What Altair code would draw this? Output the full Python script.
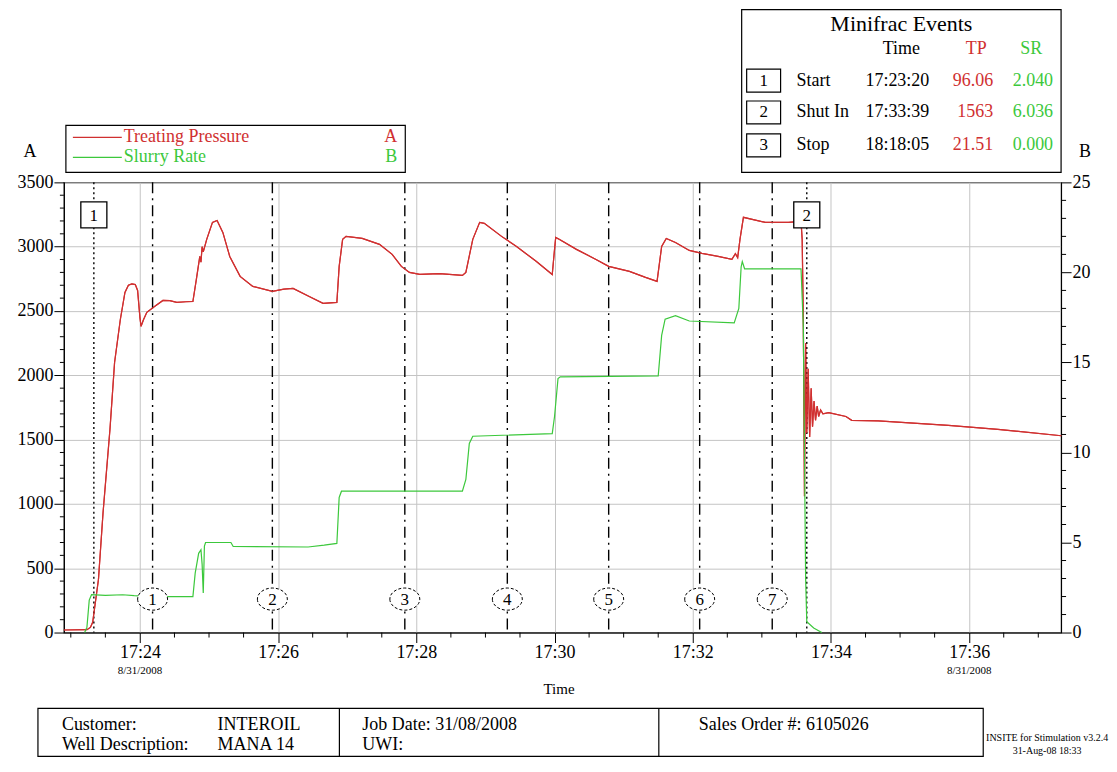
import altair as alt
import pandas as pd

# ---------------- data ----------------
TP_TIME = ["17:22:54", "17:23:14", "17:23:17", "17:23:19", "17:23:24", "17:23:28", "17:23:34",
           "17:23:38", "17:23:43", "17:23:47", "17:23:50", "17:23:53", "17:23:56", "17:23:58",
           "17:24:00", "17:24:01", "17:24:03", "17:24:06", "17:24:13", "17:24:20", "17:24:26",
           "17:24:32", "17:24:40", "17:24:46", "17:24:49", "17:24:52", "17:24:53", "17:24:54",
           "17:24:55", "17:24:58", "17:25:03", "17:25:07", "17:25:12", "17:25:18", "17:25:27",
           "17:25:38", "17:25:55", "17:26:05", "17:26:13", "17:26:27", "17:26:39", "17:26:51",
           "17:26:53", "17:26:56", "17:26:59", "17:27:13", "17:27:28", "17:27:39", "17:27:47",
           "17:27:54", "17:28:03", "17:28:20", "17:28:40", "17:28:43", "17:28:49", "17:28:55",
           "17:28:59", "17:29:14", "17:29:27", "17:29:44", "17:29:58", "17:30:00", "17:30:01",
           "17:30:04", "17:30:19", "17:30:36", "17:30:47", "17:31:05", "17:31:19", "17:31:29",
           "17:31:33", "17:31:37", "17:31:45", "17:31:57", "17:32:08", "17:32:22", "17:32:34",
           "17:32:37", "17:32:39", "17:32:41", "17:32:44", "17:33:03", "17:33:23", "17:33:34",
           "17:33:35", "17:33:36", "17:33:37", "17:33:38", "17:33:39", "17:33:40.2", "17:33:41.5",
           "17:33:42.8", "17:33:44", "17:33:45.3", "17:33:46.6", "17:33:48", "17:33:49.3",
           "17:33:51", "17:33:53", "17:33:58", "17:34:13", "17:34:18", "17:34:41", "17:35:42",
           "17:36:25", "17:37:20"]
TP_VALUE = [20, 22, 40, 80, 412, 933, 1580,
            2100, 2434, 2644, 2700, 2710, 2705, 2660,
            2450, 2380, 2430, 2490, 2536, 2582, 2580,
            2567, 2572, 2574, 2746, 2924, 2880, 3000,
            2960, 3057, 3189, 3204, 3111, 2924, 2769,
            2691, 2652, 2670, 2676, 2613, 2559, 2567,
            2847, 3057, 3080, 3064, 3018, 2940, 2847,
            2800, 2784, 2790, 2777, 2800, 3057, 3189,
            3181, 3080, 3002, 2886, 2784, 2979, 3072,
            3057, 2979, 2901, 2847, 2808, 2761, 2730,
            3002, 3064, 3033, 2971, 2948, 2924, 2901,
            2945, 2915, 3057, 3228, 3189, 3189, 3197,
            3057, 2430, 1060, 2250, 1550, 2050, 1520,
            1900, 1600, 1800, 1650, 1760, 1680,
            1730, 1700, 1710, 1680, 1650, 1645, 1610,
            1580, 1530]

SR_TIME = ["17:23:12", "17:23:14", "17:23:16", "17:23:18", "17:23:30", "17:23:45", "17:23:55",
           "17:24:10", "17:24:30", "17:24:46", "17:24:48", "17:24:51", "17:24:53", "17:24:54",
           "17:24:55", "17:24:56", "17:24:57", "17:25:19", "17:25:21", "17:26:26", "17:26:40",
           "17:26:51", "17:26:53", "17:26:55", "17:28:40", "17:28:43", "17:28:46", "17:28:49",
           "17:29:58", "17:30:00", "17:30:03", "17:30:05", "17:31:30", "17:31:33", "17:31:36",
           "17:31:45", "17:31:57", "17:32:36", "17:32:40", "17:32:42", "17:32:43", "17:32:45",
           "17:33:34", "17:33:36", "17:33:38", "17:33:39", "17:33:45", "17:33:52"]
SR_VALUE = [0, 0.3, 1.8, 2.1, 2.06, 2.1, 2.05,
            2.0, 2.0, 2.0, 3.3, 4.4, 4.6, 3.8,
            2.2, 4.8, 5.0, 5.0, 4.78, 4.75, 4.85,
            4.95, 7.5, 7.85, 7.85, 8.5, 10.5, 10.9,
            11.05, 12.0, 14.1, 14.2, 14.25, 16.5, 17.4,
            17.6, 17.3, 17.2, 18.0, 20.3, 20.6, 20.2,
            20.2, 17.0, 3.0, 0.6, 0.25, 0]

STAGE_TIME = ["17:24:11", "17:25:55", "17:27:50", "17:29:19", "17:30:47", "17:32:06", "17:33:09"]
STAGE_LABEL = ["1", "2", "3", "4", "5", "6", "7"]
STAGE_LEVEL = 260          # psi level of the stage markers

EVENT_TIME = ["17:23:20", "17:33:39"]
EVENT_LABEL = ["1", "2"]
EVENT_LEVEL = 3247         # psi level of the event boxes

P_TICKS = [0, 500, 1000, 1500, 2000, 2500, 3000, 3500]
SR_TICKS = [0, 5, 10, 15, 20, 25]
X_TICK_LABELS = ["17:24", "17:26", "17:28", "17:30", "17:32", "17:34", "17:36"]
DATE_TEXT = "8/31/2008"
DATE_AT = ["17:24", "17:36"]

LEGEND_NAMES = ["Treating Pressure", "Slurry Rate"]
LEGEND_AXES = ["A", "B"]

EVT_TITLE = "Minifrac Events"
EVT_HEAD = ["Time", "TP", "SR"]
EVT_NUM = ["1", "2", "3"]
EVT_NAME = ["Start", "Shut In", "Stop"]
EVT_CLOCK = ["17:23:20", "17:33:39", "18:18:05"]
EVT_TP = ["96.06", "1563", "21.51"]
EVT_SR = ["2.040", "6.036", "0.000"]

INFO_LABELS = ["Customer:", "Well Description:"]
INFO_VALUES = ["INTEROIL", "MANA 14"]
JOB_LABELS = ["Job Date:  31/08/2008", "UWI:"]
SALES_LABEL = "Sales Order #:  6105026"
FOOTER = ["INSITE for Stimulation v3.2.4", "31-Aug-08 18:33"]

# ---------------- styling ----------------
FONT = "Liberation Serif"
RED = "#d03030"
GREEN = "#3cc83c"
GRID = "#c4c4c4"
W, H = 999, 451


def to_min(s):
    parts = s.split(":")
    if len(parts) == 2:
        parts.append("0")
    h, m, sec = parts
    return (int(h) - 17) * 60 + int(m) + float(sec) / 60.0


xsc = alt.Scale(domain=[22.9, 37.33], nice=False, zero=False)
psc = alt.Scale(domain=[0, 3500], nice=False, zero=False)
rsc = alt.Scale(domain=[0, 25], nice=False, zero=False)

tp = pd.DataFrame({"t": [to_min(s) for s in TP_TIME], "v": TP_VALUE})
sr = pd.DataFrame({"t": [to_min(s) for s in SR_TIME], "v": SR_VALUE})
stages = pd.DataFrame({"t": [to_min(s) for s in STAGE_TIME], "lab": STAGE_LABEL,
                       "p": [STAGE_LEVEL] * len(STAGE_TIME)})
events = pd.DataFrame({"t": [to_min(s) for s in EVENT_TIME], "lab": EVENT_LABEL,
                       "p": [EVENT_LEVEL] * len(EVENT_TIME)})
major_x = [to_min(s) for s in X_TICK_LABELS]
dates = pd.DataFrame({"t": [to_min(s) for s in DATE_AT], "lab": [DATE_TEXT] * len(DATE_AT)})

minor_x = pd.DataFrame({"t": [23 + 0.5 * i for i in range(0, 29)
                              if (23 + 0.5 * i) not in major_x]})
minor_p = pd.DataFrame({"v": [v for v in range(100, 3500, 100) if v % 500]})
minor_r = pd.DataFrame({"v": [v for v in range(1, 25) if v % 5]})

D0 = pd.DataFrame({"k": [0]})

# one identical x axis definition for every layer (shared, merged cleanly)
X_AXIS = alt.Axis(values=major_x, labelExpr="'17:' + format(datum.value, 'd')", grid=True,
                  gridColor=GRID, gridWidth=1, tickSize=10, tickColor="black",
                  domainColor="black", labelColor="black", labelFontSize=18,
                  labelPadding=1, labelFlush=False, labelOverlap=False, title=None)


def X(field="t:Q"):
    return alt.X(field, scale=xsc, axis=X_AXIS, title=None)


def txt(s, x, y, size=18, color="black", align="left", baseline="middle"):
    return alt.Chart(D0).mark_text(text=s, fontSize=size, color=color, align=align,
                                   baseline=baseline, font=FONT).encode(
        x=alt.value(x), y=alt.value(y))


def rect(x1, x2, y1, y2, sw=1.2):
    return alt.Chart(D0).mark_rect(fill="white", stroke="black", strokeWidth=sw).encode(
        x=alt.value(x1), x2=alt.value(x2), y=alt.value(y1), y2=alt.value(y2))


def hline(x1, x2, y, color, sw=1.2):
    return alt.Chart(D0).mark_rule(color=color, strokeWidth=sw).encode(
        x=alt.value(x1), x2=alt.value(x2), y=alt.value(y))


def vline(x, y1, y2, sw=1.2):
    return alt.Chart(D0).mark_rule(color="black", strokeWidth=sw).encode(
        x=alt.value(x), y=alt.value(y1), y2=alt.value(y2))


layers = []

# treating pressure (left axis)
layers.append(alt.Chart(tp).mark_line(color=RED, strokeWidth=1.2).encode(
    x=X(),
    y=alt.Y("v:Q", scale=psc, title=None,
            axis=alt.Axis(values=P_TICKS, format="d", grid=True, gridColor=GRID, gridWidth=1,
                          tickSize=10, tickColor="black", domainColor="black",
                          labelColor="black", labelFontSize=18, labelPadding=1,
                          labelOverlap=False, labelFlush=False))))

# vertical stage (dash-dot) and event (dotted) lines
layers.append(alt.Chart(stages).mark_rule(color="black", strokeWidth=1.4,
                                          strokeDash=[11, 5, 2, 5]).encode(
    x=X(), y=alt.value(0), y2=alt.value(H)))
layers.append(alt.Chart(events).mark_rule(color="black", strokeWidth=1.4,
                                          strokeDash=[2, 3]).encode(
    x=X(), y=alt.value(0), y2=alt.value(H)))

# redraw pressure on top of the vertical lines
layers.append(alt.Chart(tp).mark_line(color=RED, strokeWidth=1.2).encode(
    x=X(), y=alt.Y("v:Q", scale=psc, axis=None)))

# slurry rate (right axis)
layers.append(alt.Chart(sr).mark_line(color=GREEN, strokeWidth=1.2).encode(
    x=X(),
    y=alt.Y("v:Q", scale=rsc, title=None,
            axis=alt.Axis(orient="right", values=SR_TICKS, grid=False, tickSize=10,
                          tickColor="black", domainColor="black", labelColor="black",
                          labelFontSize=18, labelPadding=1, labelOverlap=False,
                          labelFlush=False))))

# stage ellipses
ELLIPSE = "M -1 0 A 1 0.74 0 1 0 1 0 A 1 0.74 0 1 0 -1 0 Z"
layers.append(alt.Chart(stages).mark_point(shape=ELLIPSE, size=900, filled=True, fill="white",
                                           stroke="black", strokeWidth=1, strokeDash=[3, 2],
                                           opacity=1, fillOpacity=1).encode(
    x=X(), y=alt.Y("p:Q", scale=psc, axis=None)))
layers.append(alt.Chart(stages).mark_text(fontSize=17, font=FONT, color="black",
                                          baseline="middle", dy=1).encode(
    x=X(), y=alt.Y("p:Q", scale=psc, axis=None), text="lab:N"))

# event boxes
layers.append(alt.Chart(events).mark_square(size=680, fill="white", stroke="black",
                                            strokeWidth=1.3, opacity=1, fillOpacity=1).encode(
    x=X(), y=alt.Y("p:Q", scale=psc, axis=None)))
layers.append(alt.Chart(events).mark_text(fontSize=17, font=FONT, color="black",
                                          baseline="middle", dy=1).encode(
    x=X(), y=alt.Y("p:Q", scale=psc, axis=None), text="lab:N"))

# minor ticks
layers.append(alt.Chart(minor_p).mark_rule(color="black", strokeWidth=1).encode(
    y=alt.Y("v:Q", scale=psc, axis=None), x=alt.value(-4), x2=alt.value(0)))
layers.append(alt.Chart(minor_r).mark_rule(color="black", strokeWidth=1).encode(
    y=alt.Y("v:Q", scale=rsc, axis=None), x=alt.value(W), x2=alt.value(W + 5)))
layers.append(alt.Chart(minor_x).mark_rule(color="black", strokeWidth=1).encode(
    x=X(), y=alt.value(H), y2=alt.value(H + 5)))

# date sub-labels and axis titles
layers.append(alt.Chart(dates).mark_text(fontSize=11, font=FONT, color="black",
                                         baseline="middle").encode(
    x=X(), y=alt.value(490), text="lab:N"))
layers.append(txt("Time", 496, 508, size=15, align="center"))
layers.append(txt(LEGEND_AXES[0], -34, -30, size=18, align="center"))
layers.append(txt(LEGEND_AXES[1], 1023, -30, size=18, align="center"))

# legend box
layers.append(rect(2, 342, -57, -10))
layers.append(hline(9, 58, -45, RED))
layers.append(hline(9, 58, -25, GREEN))
layers.append(txt(LEGEND_NAMES[0], 60, -45, size=18, color=RED))
layers.append(txt(LEGEND_NAMES[1], 60, -25, size=18, color=GREEN))
layers.append(txt(LEGEND_AXES[0], 334, -45, size=18, color=RED, align="right"))
layers.append(txt(LEGEND_AXES[1], 334, -25, size=18, color=GREEN, align="right"))

# minifrac events box
layers.append(rect(679, 999, -173, -10))
layers.append(txt(EVT_TITLE, 839, -159, size=22, align="center"))
layers.append(txt(EVT_HEAD[0], 839, -134, size=18, align="center"))
layers.append(txt(EVT_HEAD[1], 914, -134, size=18, align="center", color=RED))
layers.append(txt(EVT_HEAD[2], 969, -134, size=18, align="center", color=GREEN))
for i, ry in enumerate([-102, -70, -37]):
    layers.append(rect(684, 718, ry - 11.5, ry + 11.5, sw=1.2))
    layers.append(txt(EVT_NUM[i], 701, ry, size=17, align="center"))
    layers.append(txt(EVT_NAME[i], 734, ry, size=18))
    layers.append(txt(EVT_CLOCK[i], 803, ry, size=18))
    layers.append(txt(EVT_TP[i], 931, ry, size=18, color=RED, align="right"))
    layers.append(txt(EVT_SR[i], 991, ry, size=18, color=GREEN, align="right"))

# bottom info table
layers.append(rect(-26, 921, 527, 575))
layers.append(vline(276, 527, 575))
layers.append(vline(596, 527, 575))
for i, ry in enumerate([544, 564]):
    layers.append(txt(INFO_LABELS[i], -2, ry, size=18))
    layers.append(txt(INFO_VALUES[i], 154, ry, size=18))
    layers.append(txt(JOB_LABELS[i], 299, ry, size=18))
layers.append(txt(SALES_LABEL, 636, 544, size=18))
layers.append(txt(FOOTER[0], 985, 557, size=10, align="center"))
layers.append(txt(FOOTER[1], 985, 570, size=10, align="center"))

chart = alt.layer(*layers).resolve_scale(y="independent").properties(
    width=W, height=H,
    autosize=alt.AutoSizeParams(type="none"),
    padding={"left": 56, "top": 174, "right": 48, "bottom": 125},
    background="white",
).configure_view(stroke="black", strokeWidth=1.2).configure_axis(
    labelFont=FONT, titleFont=FONT
).configure_text(font=FONT)

chart.save("out.html", embed_options={"renderer": "svg", "actions": False})
